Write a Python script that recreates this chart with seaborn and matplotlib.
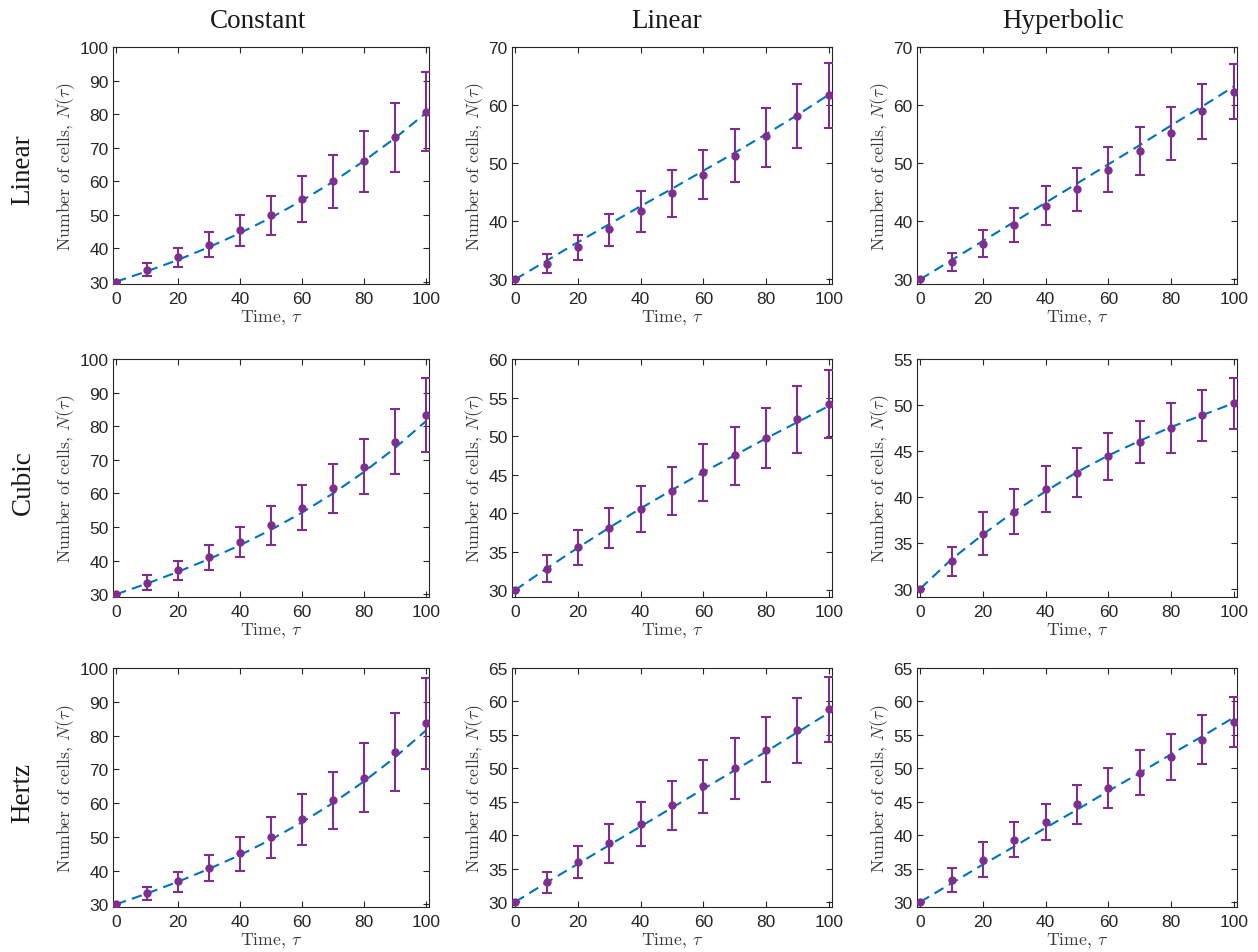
import numpy as np
import matplotlib
matplotlib.use("Agg")
import matplotlib.pyplot as plt
import seaborn as sns

# time points shared by all panels
time = [0, 10, 20, 30, 40, 50, 60, 70, 80, 90, 100]

col_names = ["Constant", "Linear", "Hyperbolic"]
row_names = ["Linear", "Cubic", "Hertz"]

# simulated mean, upper and lower error limits, model curve (row, col)
mean_lin_const = [30, 33.6, 37.3, 41.0, 45.4, 49.9, 54.6, 60.1, 65.9, 73.1, 80.7]
upper_lin_const = [30, 35.5, 40.1, 44.7, 50.0, 55.5, 61.4, 67.7, 74.8, 83.3, 92.5]
lower_lin_const = [30, 31.6, 34.5, 37.4, 40.7, 44.0, 47.9, 52.1, 56.7, 62.6, 68.9]
model_lin_const = [30, 33.1, 36.5, 40.3, 44.5, 49.1, 54.2, 59.8, 66.0, 72.8, 80.3]

mean_lin_lin = [30, 32.7, 35.5, 38.6, 41.7, 44.9, 48.0, 51.3, 54.6, 58.2, 61.7]
upper_lin_lin = [30, 34.3, 37.6, 41.3, 45.2, 48.9, 52.2, 55.9, 59.5, 63.6, 67.3]
lower_lin_lin = [30, 31.1, 33.4, 35.7, 38.1, 40.8, 43.8, 46.7, 49.4, 52.6, 56.1]
model_lin_lin = [30, 33.2, 36.4, 39.5, 42.6, 45.6, 48.7, 51.8, 55.0, 58.3, 61.8]

mean_lin_hyp = [30, 33.0, 36.1, 39.4, 42.7, 45.6, 48.9, 52.1, 55.2, 58.9, 62.3]
upper_lin_hyp = [30, 34.6, 38.5, 42.3, 46.0, 49.2, 52.8, 56.2, 59.7, 63.6, 67.1]
lower_lin_hyp = [30, 31.4, 33.9, 36.5, 39.3, 41.8, 45.0, 48.0, 50.6, 54.1, 57.6]
model_lin_hyp = [30, 33.3, 36.6, 39.9, 43.2, 46.5, 49.8, 53.1, 56.5, 59.8, 63.2]

mean_cub_const = [30, 33.5, 37.2, 41.0, 45.6, 50.5, 55.7, 61.5, 67.9, 75.4, 83.2]
upper_cub_const = [30, 35.7, 40.0, 44.8, 50.0, 56.3, 62.6, 68.7, 76.3, 85.1, 94.4]
lower_cub_const = [30, 31.4, 34.3, 37.2, 41.0, 44.6, 49.1, 54.3, 59.9, 65.7, 72.2]
model_cub_const = [30, 33.2, 36.7, 40.5, 44.6, 49.2, 54.3, 60.0, 66.4, 73.5, 81.5]

mean_cub_lin = [30, 32.8, 35.6, 38.0, 40.5, 42.9, 45.3, 47.5, 49.8, 52.2, 54.2]
upper_cub_lin = [30, 34.5, 37.8, 40.7, 43.5, 46.0, 48.9, 51.2, 53.7, 56.5, 58.6]
lower_cub_lin = [30, 31.0, 33.2, 35.4, 37.6, 39.8, 41.6, 43.7, 45.8, 47.8, 49.8]
model_cub_lin = [30, 32.8, 35.5, 38.1, 40.6, 43.0, 45.3, 47.5, 49.7, 51.8, 53.9]

mean_cub_hyp = [30, 33.0, 36.0, 38.4, 40.8, 42.6, 44.4, 46.0, 47.5, 48.9, 50.2]
upper_cub_hyp = [30, 34.5, 38.3, 40.8, 43.4, 45.3, 46.9, 48.3, 50.2, 51.6, 52.9]
lower_cub_hyp = [30, 31.4, 33.7, 36.0, 38.3, 40.0, 41.8, 43.7, 44.8, 46.1, 47.4]
model_cub_hyp = [30, 33.2, 35.9, 38.4, 40.6, 42.7, 44.5, 46.1, 47.6, 48.9, 50.2]

mean_hz_const = [30, 33.3, 36.8, 40.7, 45.1, 49.8, 55.2, 60.8, 67.5, 75.2, 83.6]
upper_hz_const = [30, 35.2, 39.7, 44.6, 50.0, 55.8, 62.6, 69.2, 77.7, 86.7, 97.0]
lower_hz_const = [30, 31.3, 33.6, 36.9, 40.0, 43.7, 47.7, 52.2, 57.3, 63.7, 70.1]
model_hz_const = [30, 33.2, 36.7, 40.5, 44.6, 49.2, 54.3, 60.0, 66.4, 73.5, 81.5]

mean_hz_lin = [30, 33.0, 36.0, 38.8, 41.7, 44.5, 47.3, 50.1, 52.7, 55.7, 58.8]
upper_hz_lin = [30, 34.5, 38.4, 41.7, 45.0, 48.1, 51.3, 54.6, 57.6, 60.5, 63.6]
lower_hz_lin = [30, 31.3, 33.6, 35.9, 38.3, 40.8, 43.3, 45.4, 47.9, 50.8, 54.0]
model_hz_lin = [30, 32.9, 35.7, 38.5, 41.3, 44.1, 46.9, 49.7, 52.5, 55.4, 58.3]

mean_hz_hyp = [30, 33.3, 36.3, 39.3, 41.9, 44.6, 47.0, 49.3, 51.7, 54.3, 56.9]
upper_hz_hyp = [30, 35.1, 38.9, 41.9, 44.6, 47.5, 50.0, 52.7, 55.1, 58.0, 60.6]
lower_hz_hyp = [30, 31.5, 33.8, 36.8, 39.3, 41.7, 44.0, 46.0, 48.2, 50.7, 53.2]
model_hz_hyp = [30, 32.8, 35.6, 38.3, 41.1, 43.8, 46.6, 49.3, 52.1, 54.8, 57.6]

panels = [
    [(mean_lin_const, upper_lin_const, lower_lin_const, model_lin_const),
     (mean_lin_lin, upper_lin_lin, lower_lin_lin, model_lin_lin),
     (mean_lin_hyp, upper_lin_hyp, lower_lin_hyp, model_lin_hyp)],
    [(mean_cub_const, upper_cub_const, lower_cub_const, model_cub_const),
     (mean_cub_lin, upper_cub_lin, lower_cub_lin, model_cub_lin),
     (mean_cub_hyp, upper_cub_hyp, lower_cub_hyp, model_cub_hyp)],
    [(mean_hz_const, upper_hz_const, lower_hz_const, model_hz_const),
     (mean_hz_lin, upper_hz_lin, lower_hz_lin, model_hz_lin),
     (mean_hz_hyp, upper_hz_hyp, lower_hz_hyp, model_hz_hyp)],
]

y_limits = [[(29.3, 100), (29.2, 70), (29.2, 70)],
            [(29.2, 100), (29.1, 60), (29.1, 55)],
            [(29.2, 100), (29.25, 65), (29.25, 65)]]
y_steps = [[10, 10, 10], [10, 5, 5], [10, 5, 5]]

sns.set_theme(style="ticks")
plt.rcParams["font.family"] = ["Liberation Sans", "DejaVu Sans"]
plt.rcParams["mathtext.fontset"] = "cm"

W, H = 1258, 953
fig = plt.figure(figsize=(W / 100, H / 100), dpi=100)

col_left = [113, 512, 917]
col_width = [316, 320, 320]
row_top = [48, 360, 669]
row_bottom = [285, 598, 908]

dark = "#262626"
label_grey = "#3a3a3a"
purple = "#7E2F8E"
blue = "#0072BD"

for r in range(3):
    for c in range(3):
        mean, upper, lower, model = panels[r][c]
        ax = fig.add_axes([col_left[c] / W, 1 - row_bottom[r] / H,
                           col_width[c] / W, (row_bottom[r] - row_top[r]) / H])
        sns.lineplot(x=time, y=model, ax=ax, color=blue, linestyle=(0, (5, 3)),
                     linewidth=1.5, zorder=2)
        mean_a = np.array(mean)
        yerr = [mean_a - np.array(lower), np.array(upper) - mean_a]
        ax.errorbar(time, mean, yerr=yerr, fmt="o", color=purple, markersize=5,
                    elinewidth=1.5, capsize=3.3, capthick=1.5, zorder=3)
        ax.set_xlim(-1, 101)
        lo, hi = y_limits[r][c]
        ax.set_ylim(lo, hi)
        ax.set_xticks(range(0, 101, 20))
        ax.set_yticks(np.arange(30, hi + 0.1, y_steps[r][c]))
        ax.tick_params(direction="in", top=True, right=True, length=4, width=0.8,
                       labelsize=12.5, colors=dark)
        ax.tick_params(axis="x", pad=5)
        ax.tick_params(axis="y", pad=3)
        for s in ax.spines.values():
            s.set_visible(True)
            s.set_color(dark)
            s.set_linewidth(0.8)
        ax.set_xlabel(r"Time, $\tau$", fontfamily="cmr10", fontsize=12.8, color=label_grey,
                      labelpad=1)
        ax.set_ylabel(r"Number of cells, $N(\tau)$", fontfamily="cmr10", fontsize=12.8,
                      color=label_grey, labelpad=2)

col_title_x = [258, 667, 1063]
for c, name in enumerate(col_names):
    fig.text(col_title_x[c] / W, 1 - 21 / H, name, ha="center", va="center",
             fontsize=19.5, family="Liberation Serif", color="#1a1a1a")

row_title_y = [170, 483, 793]
for r, name in enumerate(row_names):
    fig.text(23 / W, 1 - row_title_y[r] / H, name, ha="center", va="center",
             rotation=90, fontsize=19.5, family="Liberation Serif", color="#1a1a1a")

fig.savefig("out.png", dpi=100, facecolor="white")
